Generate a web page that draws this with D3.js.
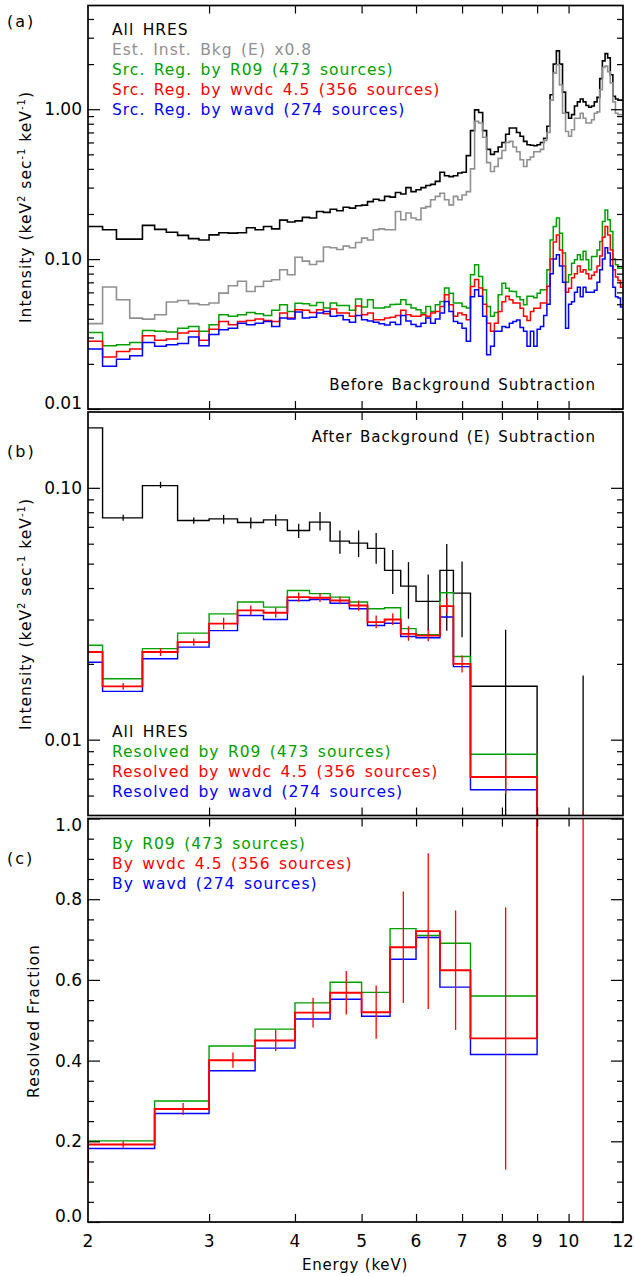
<!DOCTYPE html>
<html>
<head>
<meta charset="utf-8">
<style>
  body { margin: 0; background: #fff; }
  svg { display: block; font-family: "DejaVu Sans", sans-serif; }
  .tick line { stroke: #000; stroke-width: 1.2; }
</style>
</head>
<body>
<svg width="634" height="1276"></svg>
<script src="https://d3js.org/d3.v7.min.js"></script>
<script>

// ---- panel (a): 0.1 keV bins from 2 to 12 keV ----
var edgesA = d3.range(20, 121).map(function(k) { return k / 10; });

var allHres = [0.165,0.157,0.136,0.136,0.168,0.158,0.151,0.144,0.137,0.134,
  0.145,0.150,0.149,0.150,0.162,0.157,0.165,0.159,0.182,0.177,
  0.180,0.190,0.188,0.208,0.205,0.215,0.210,0.222,0.219,0.227,
  0.229,0.242,0.251,0.246,0.262,0.259,0.278,0.272,0.300,0.282,
  0.290,0.300,0.310,0.315,0.330,0.380,0.360,0.355,0.360,0.375,
  0.380,0.490,0.720,0.990,0.950,0.720,0.540,0.500,0.520,0.560,
  0.600,0.680,0.750,0.750,0.700,0.660,0.610,0.580,0.575,0.570,
  0.580,0.600,0.640,0.770,1.250,2.000,2.450,2.000,1.300,0.950,
  0.870,0.920,1.050,1.120,1.170,1.120,1.060,1.030,1.050,1.120,
  1.200,1.600,2.100,2.350,2.200,1.700,1.220,1.170,1.150,1.150];

var instBkg = [0.0371,0.0651,0.0536,0.0404,0.0398,0.0425,0.0517,0.0530,0.0505,0.0496,
  0.0510,0.0593,0.0664,0.0711,0.0608,0.0657,0.0711,0.0729,0.0850,0.0786,
  0.1030,0.0970,0.0920,0.0966,0.1205,0.1190,0.1160,0.1220,0.1190,0.1290,
  0.1380,0.1340,0.1570,0.1590,0.1570,0.1570,0.2080,0.1830,0.2030,0.1880,
  0.1830,0.2190,0.2240,0.2490,0.2620,0.2750,0.2490,0.2300,0.2620,0.2490,
  0.2680,0.2820,0.4000,0.8300,0.8100,0.6500,0.4400,0.3840,0.4150,0.4700,
  0.5300,0.6000,0.6100,0.5600,0.5200,0.4600,0.4150,0.4600,0.4800,0.5200,
  0.5200,0.5400,0.6200,0.7000,1.1500,1.7400,1.9800,1.4500,0.9400,0.7100,
  0.6600,0.7300,0.8700,0.8700,0.9400,0.8700,0.8100,0.8100,0.8500,0.9400,
  0.9600,1.3500,1.9000,1.9400,1.7800,1.5000,1.1200,0.9400,0.9200,0.9200];

var srcR09 = [0.0324,0.0264,0.0268,0.0278,0.0334,0.0330,0.0326,0.0346,0.0355,0.0330,
  0.0365,0.0425,0.0415,0.0425,0.0441,0.0432,0.0421,0.0455,0.0496,0.0448,
  0.0508,0.0503,0.0490,0.0514,0.0471,0.0509,0.0490,0.0490,0.0455,0.0541,
  0.0479,0.0536,0.0471,0.0471,0.0480,0.0497,0.0500,0.0536,0.0497,0.0471,
  0.0459,0.0437,0.0482,0.0448,0.0496,0.0522,0.0641,0.0593,0.0509,0.0509,
  0.0482,0.0471,0.0786,0.0917,0.0766,0.0625,0.0482,0.0415,0.0440,0.0578,
  0.0690,0.0640,0.0610,0.0608,0.0560,0.0536,0.0496,0.0565,0.0565,0.0552,
  0.0593,0.0625,0.0625,0.0849,0.1340,0.1650,0.1880,0.1490,0.1100,0.0700,
  0.0786,0.0940,0.0990,0.1070,0.0990,0.1130,0.0990,0.0849,0.1040,0.1040,
  0.1150,0.1310,0.1780,0.2130,0.1830,0.1530,0.1000,0.0917,0.0870,0.0870];

var srcWvdc = [0.0283,0.0222,0.0242,0.0251,0.0308,0.0287,0.0293,0.0321,0.0330,0.0287,
  0.0341,0.0384,0.0365,0.0384,0.0390,0.0398,0.0390,0.0384,0.0437,0.0404,
  0.0459,0.0455,0.0440,0.0459,0.0432,0.0464,0.0437,0.0437,0.0415,0.0487,
  0.0425,0.0437,0.0394,0.0394,0.0404,0.0410,0.0420,0.0455,0.0425,0.0415,
  0.0415,0.0425,0.0415,0.0437,0.0448,0.0482,0.0578,0.0496,0.0415,0.0437,
  0.0425,0.0394,0.0657,0.0730,0.0641,0.0500,0.0374,0.0330,0.0374,0.0448,
  0.0520,0.0565,0.0536,0.0509,0.0509,0.0470,0.0415,0.0390,0.0448,0.0470,
  0.0470,0.0509,0.0509,0.0660,0.1000,0.1300,0.1450,0.1150,0.0900,0.0600,
  0.0640,0.0750,0.0800,0.0900,0.0820,0.0850,0.0800,0.0740,0.0780,0.0820,
  0.0900,0.1050,0.1400,0.1650,0.1450,0.1150,0.0850,0.0760,0.0720,0.0650];

var srcWavd = [0.0251,0.0193,0.0215,0.0227,0.0278,0.0262,0.0268,0.0274,0.0302,0.0264,
  0.0314,0.0338,0.0346,0.0374,0.0365,0.0374,0.0384,0.0355,0.0404,0.0398,
  0.0443,0.0404,0.0410,0.0437,0.0448,0.0415,0.0420,0.0394,0.0379,0.0420,
  0.0394,0.0386,0.0379,0.0371,0.0364,0.0379,0.0366,0.0420,0.0386,0.0366,
  0.0355,0.0374,0.0404,0.0374,0.0398,0.0437,0.0522,0.0448,0.0383,0.0374,
  0.0346,0.0283,0.0560,0.0625,0.0565,0.0415,0.0230,0.0262,0.0330,0.0330,
  0.0355,0.0350,0.0374,0.0383,0.0393,0.0350,0.0330,0.0262,0.0330,0.0262,
  0.0340,0.0355,0.0420,0.0500,0.0800,0.1000,0.1070,0.0900,0.0700,0.0346,
  0.0500,0.0520,0.0600,0.0650,0.0560,0.0650,0.0600,0.0600,0.0600,0.0620,
  0.0700,0.0850,0.1000,0.1190,0.1100,0.0900,0.0650,0.0560,0.0550,0.0480];

// ---- panel (b): after background subtraction ----
var edgesB = [1.8,2.1,2.4,2.7,3.0,3.3,3.6,3.9,4.2,4.5,4.8,5.1,5.4,5.7,6.0,6.5,6.8,7.2,9.0,12.0];
var hresB   = [0.173,0.0760,0.102,0.0742,0.0753,0.0728,0.0746,0.0677,0.0731,0.0614,0.0603,0.0575,0.0470,0.0407,0.0354,0.0470,0.0382,0.0163,0.001];
var hresLoB = [null,0.0740,0.0999,0.0720,0.0720,0.0690,0.0705,0.0632,0.0677,0.0547,0.0531,0.0500,0.0379,0.0302,0.0271,0.0271,0.0255,0.001,0.001];
var hresHiB = [null,0.0781,0.1056,0.0763,0.0781,0.0763,0.0783,0.0720,0.0801,0.0677,0.0677,0.0661,0.0567,0.0507,0.0453,0.0599,0.0510,0.0273,0.0180];
var r09B    = [0.0237,0.01746,0.0230,0.0265,0.0316,0.0352,0.0336,0.0391,0.0380,0.0368,0.0352,0.0331,0.0334,0.0276,0.0261,0.0383,0.0214,0.00875,0.001];
var wvdcB   = [0.0223,0.01628,0.0223,0.0244,0.0289,0.0326,0.0319,0.0368,0.0366,0.0357,0.0341,0.0293,0.0300,0.0263,0.0259,0.0339,0.0200,0.00711,0.001];
var wavdB   = [0.0203,0.01555,0.02097,0.0233,0.0271,0.0311,0.0300,0.0357,0.0360,0.0348,0.0331,0.0284,0.0290,0.0257,0.0254,0.0307,0.0195,0.00633,0.001];
var wvdcLoB = [null,0.0158,0.0215,0.0236,0.0274,0.0312,0.0305,0.0353,0.0352,0.0345,0.0325,0.0277,0.0285,0.0247,0.0246,0.0317,0.0185,0.0061,0.0001];
var wvdcHiB = [null,0.0168,0.0231,0.0252,0.0305,0.0341,0.0334,0.0384,0.0382,0.0370,0.0357,0.0311,0.0318,0.0282,0.0275,0.0364,0.0216,0.00874,0.0052];

// ---- panel (c): resolved fraction ----
var edgesC = [1.5,2.0,2.5,3.0,3.5,4.0,4.5,5.0,5.5,6.0,6.5,7.2,9.0,12.0];
var r09C    = [0.11,0.201,0.300,0.436,0.478,0.543,0.594,0.569,0.727,0.710,0.691,0.560,1.5];
var wvdcC   = [0.105,0.192,0.280,0.401,0.450,0.519,0.568,0.520,0.681,0.721,0.624,0.455,1.5];
var wavdC   = [0.11,0.182,0.269,0.375,0.431,0.503,0.552,0.510,0.651,0.705,0.582,0.415,1.5];
var wvdcErrC = [0,0.008,0.015,0.019,0.026,0.037,0.054,0.066,0.138,0.193,0.148,0.325,3.0];

var xTicks = [3,4,5,6,7,8,9,10];
var xLabels = [2,3,4,5,6,7,8,9,10,12];

var svg = d3.select("svg");
var green = "#00a000", red = "#ff0000", blue = "#0000ff", grey = "#909090";

var x = d3.scaleLog().domain([2, 12]).range([88, 623]);

var panels = [
  { id: "a", top: 5.5, bottom: 409, y: d3.scaleLog().domain([0.01, 4.92]).range([409, 5.5]),
    major: [0.01, 0.1, 1], minor: [0.02,0.03,0.04,0.05,0.06,0.07,0.08,0.09,0.2,0.3,0.4,0.5,0.6,0.7,0.8,0.9,2,3,4],
    fmt: d3.format(".2f") },
  { id: "b", top: 412, bottom: 815.5, y: d3.scaleLog().domain([0.005, 0.2]).range([815.5, 412]),
    major: [0.01, 0.1], minor: [0.006,0.007,0.008,0.009,0.02,0.03,0.04,0.05,0.06,0.07,0.08,0.09],
    fmt: d3.format(".2f") },
  { id: "c", top: 818.5, bottom: 1222, y: d3.scaleLinear().domain([0, 1]).range([1222, 818.5]),
    major: [0, 0.2, 0.4, 0.6, 0.8, 1.0], minor: [0.05,0.1,0.15,0.25,0.3,0.35,0.45,0.5,0.55,0.65,0.7,0.75,0.85,0.9,0.95],
    fmt: d3.format(".1f") }
];

function stepPath(edges, vals, y) {
  var pts = vals.map(function(v, i) { return [edges[i], v]; });
  pts.push([edges[edges.length - 1], vals[vals.length - 1]]);
  return d3.line().curve(d3.curveStepAfter)
    .x(function(d) { return x(d[0]); })
    .y(function(d) { return y(d[1]); })(pts);
}

var defs = svg.append("defs");

panels.forEach(function(p) {
  defs.append("clipPath").attr("id", "clip-" + p.id)
    .append("rect").attr("x", 88).attr("y", p.top).attr("width", 535).attr("height", p.bottom - p.top);

  p.g = svg.append("g");
  p.plot = p.g.append("g").attr("clip-path", "url(#clip-" + p.id + ")");

  // x ticks top and bottom, pointing inward
  p.g.append("g").attr("transform", "translate(0," + p.bottom + ")")
    .call(d3.axisBottom(x).tickValues(xTicks).tickSize(-8).tickFormat(""));
  p.g.append("g").attr("transform", "translate(0," + p.top + ")")
    .call(d3.axisTop(x).tickValues(xTicks).tickSize(-8).tickFormat(""));

  // y ticks left and right
  [[d3.axisLeft, 88], [d3.axisRight, 623]].forEach(function(a) {
    p.g.append("g").attr("transform", "translate(" + a[1] + ",0)")
      .call(a[0](p.y).tickValues(p.major).tickSize(-12).tickFormat(""));
    p.g.append("g").attr("transform", "translate(" + a[1] + ",0)")
      .call(a[0](p.y).tickValues(p.minor).tickSize(-6).tickFormat(""));
  });

  // y labels (the ones at the frame edges sit inside the frame)
  p.g.selectAll(".ylab").data(p.major).enter().append("text")
    .attr("x", 82)
    .attr("y", function(d) {
      var yy = p.y(d);
      if (Math.abs(yy - p.bottom) < 2) yy -= 6;
      if (Math.abs(yy - p.top) < 2) yy += 6;
      return yy;
    })
    .attr("dy", "0.36em")
    .attr("text-anchor", "end")
    .attr("font-size", 17)
    .text(function(d) { return p.fmt(d); });

  p.g.append("rect").attr("x", 88).attr("y", p.top).attr("width", 535).attr("height", p.bottom - p.top)
    .attr("fill", "none").attr("stroke", "#000").attr("stroke-width", 1.7);

  p.g.selectAll("g.tick line").attr("stroke-width", 1.3);
  p.g.selectAll(".domain").remove();
});

function addLine(p, edges, vals, color, w) {
  p.plot.append("path").attr("d", stepPath(edges, vals, p.y))
    .attr("fill", "none").attr("stroke", color).attr("stroke-width", w);
}

function addErrors(p, edges, lo, hi, color, w) {
  var rows = lo.map(function(l, i) { return { l: l, h: hi[i], c: (edges[i] + edges[i + 1]) / 2 }; })
    .filter(function(d) { return d.l !== null; });
  p.plot.selectAll(null).data(rows).enter().append("line")
    .attr("x1", function(d) { return x(d.c); }).attr("x2", function(d) { return x(d.c); })
    .attr("y1", function(d) { return p.y(d.l); }).attr("y2", function(d) { return p.y(d.h); })
    .attr("stroke", color).attr("stroke-width", w);
}

// panel (a)
var pa = panels[0];
addLine(pa, edgesA, allHres, "#000", 1.6);
addLine(pa, edgesA, instBkg, grey, 1.6);
addLine(pa, edgesA, srcR09, green, 1.5);
addLine(pa, edgesA, srcWvdc, red, 1.5);
addLine(pa, edgesA, srcWavd, blue, 1.5);

// panel (b)
var pb = panels[1];
addLine(pb, edgesB, hresB, "#000", 1.4);
addErrors(pb, edgesB, hresLoB, hresHiB, "#000", 1.3);
addLine(pb, edgesB, r09B, green, 1.4);
addLine(pb, edgesB, wavdB, blue, 1.4);
addLine(pb, edgesB, wvdcB, red, 1.9);
addErrors(pb, edgesB, wvdcLoB, wvdcHiB, red, 1.3);

// panel (c)
var pc = panels[2];
addLine(pc, edgesC, r09C, green, 1.4);
addLine(pc, edgesC, wavdC, blue, 1.4);
addLine(pc, edgesC, wvdcC, red, 1.9);
addErrors(pc, edgesC,
  wvdcC.map(function(v, i) { return v - wvdcErrC[i]; }),
  wvdcC.map(function(v, i) { return v + wvdcErrC[i]; }), red, 1.3);

// x tick labels under the last panel
svg.append("g").selectAll("text").data(xLabels).enter().append("text")
  .attr("x", function(d) { return x(d); }).attr("y", 1247)
  .attr("text-anchor", "middle").attr("font-size", 17)
  .text(function(d) { return d; });

svg.append("text").attr("x", 355).attr("y", 1270).attr("text-anchor", "middle")
  .attr("font-size", 15).attr("letter-spacing", 0.8).text("Energy (keV)");

// panel tags
[["(a)", 27], ["(b)", 457], ["(c)", 864]].forEach(function(t) {
  svg.append("text").attr("x", 7).attr("y", t[1]).attr("font-size", 16)
    .attr("letter-spacing", 2).text(t[0]);
});

// y titles
function intensityTitle(cy) {
  var t = svg.append("text").attr("transform", "translate(31," + cy + ") rotate(-90)")
    .attr("text-anchor", "middle").attr("font-size", 15.5).attr("letter-spacing", 1);
  t.append("tspan").text("Intensity (keV");
  t.append("tspan").attr("dy", -6).attr("font-size", 10).text("2");
  t.append("tspan").attr("dy", 6).text(" sec");
  t.append("tspan").attr("dy", -6).attr("font-size", 10).text("-1");
  t.append("tspan").attr("dy", 6).text(" keV");
  t.append("tspan").attr("dy", -6).attr("font-size", 10).text("-1");
  t.append("tspan").attr("dy", 6).text(")");
}
intensityTitle(207);
intensityTitle(614);
svg.append("text").attr("transform", "translate(39,1021) rotate(-90)")
  .attr("text-anchor", "middle").attr("font-size", 15.5).attr("letter-spacing", 1)
  .text("Resolved Fraction");

// legends
function legend(items, x0, y0) {
  items.forEach(function(it, i) {
    svg.append("text").attr("x", x0).attr("y", y0 + i * 20)
      .attr("font-size", 15.5).attr("letter-spacing", 1).attr("word-spacing", 2.5)
      .attr("fill", it[1]).text(it[0]);
  });
}
legend([["All HRES", "#000"], ["Est. Inst. Bkg (E) x0.8", grey],
  ["Src. Reg. by R09 (473 sources)", green], ["Src. Reg. by wvdc 4.5 (356 sources)", red],
  ["Src. Reg. by wavd (274 sources)", blue]], 112, 35);
legend([["All HRES", "#000"], ["Resolved by R09 (473 sources)", green],
  ["Resolved by wvdc 4.5 (356 sources)", red], ["Resolved by wavd (274 sources)", blue]], 112, 737);
legend([["By R09 (473 sources)", green], ["By wvdc 4.5 (356 sources)", red],
  ["By wavd (274 sources)", blue]], 112, 849);

svg.append("text").attr("x", 596).attr("y", 390).attr("text-anchor", "end")
  .attr("font-size", 15).attr("letter-spacing", 1).attr("word-spacing", 1.5)
  .text("Before Background Subtraction");
svg.append("text").attr("x", 596).attr("y", 442).attr("text-anchor", "end")
  .attr("font-size", 15).attr("letter-spacing", 1).attr("word-spacing", 1.5)
  .text("After Background (E) Subtraction");

</script>
</body>
</html>
